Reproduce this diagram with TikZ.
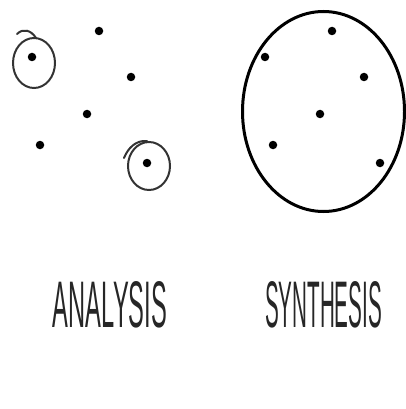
\documentclass[tikz,border=0pt]{standalone}
\usepackage{fontspec}
\setmainfont{Liberation Sans}
\begin{document}
\begin{tikzpicture}[x=1pt,y=-1pt,
  dotmark/.style={circle,fill=black,inner sep=0pt,minimum size=8.5pt},
  ring/.style={draw=black!80,line width=2pt},
  bigring/.style={draw=black,line width=3pt},
  label/.style={inner sep=0pt,text=black!85}]
\useasboundingbox (0,0) rectangle (406,409);
% analysis side
\node[dotmark] (a1) at (32,57) {};
\node[dotmark] (a2) at (99,31) {};
\node[dotmark] (a3) at (131,77) {};
\node[dotmark] (a4) at (87,114) {};
\node[dotmark] (a5) at (40,145) {};
\node[dotmark] (a6) at (147,163) {};
\draw[ring] (34,63) ellipse [x radius=21, y radius=25];
\draw[ring,line cap=round] (17,34) .. controls (23,28) and (31,30) .. (36,38);
\draw[ring] (149,166) ellipse [x radius=21, y radius=24];
\draw[ring,line cap=round] (124,158) .. controls (128,148) and (136,140) .. (147,141);
% synthesis side
\draw[bigring] (323.5,111.5) ellipse [x radius=81, y radius=100];
\node[dotmark] (s1) at (332,31) {};
\node[dotmark] (s2) at (265,57) {};
\node[dotmark] (s3) at (364,77) {};
\node[dotmark] (s4) at (320,114) {};
\node[dotmark] (s5) at (273,145) {};
\node[dotmark] (s6) at (380,163) {};
% labels
\node[label] (lA) at (110,305) {\resizebox{114pt}{46pt}{ANALYSIS}};
\node[label] (lS) at (323.5,305) {\resizebox{117pt}{46pt}{SYNTHESIS}};
\end{tikzpicture}
\end{document}
